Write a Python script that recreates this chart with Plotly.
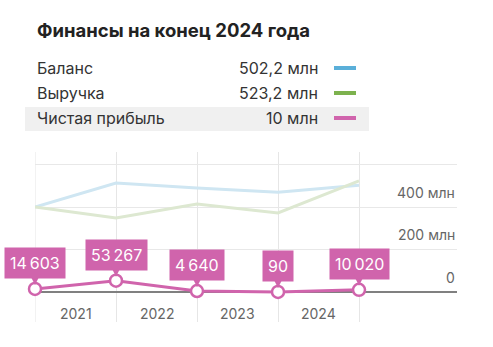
import plotly.graph_objects as go

# ---- data ----
points = [0, 1, 2, 3, 4]
years = ["2021", "2022", "2023", "2024"]
balance = [400, 513, 489, 470, 502.2]          # млн
revenue = [400, 348, 414, 372, 523.2]          # млн
profit_thousands = [14603, 53267, 4640, 90, 10020]  # тыс.
y_ticks = [0, 200, 400]
y_tick_labels = ["0", "200 млн", "400 млн"]
legend_names = ["Баланс", "Выручка", "Чистая прибыль"]
legend_values = ["502,2 млн", "523,2 млн", "10 млн"]

FONT = "Inter"
BLUE = "#5AAFD9"
GREEN = "#7DB24E"
PINK = "#D064AC"
BLUE_F = "#CFE6F2"
GREEN_F = "#DDE8D1"

W, H = 493, 347
L, R, T, B = 35, 457, 152, 322
def px(x): return (x - L) / (R - L)
def py(y): return (B - y) / (B - T)

profit = [v / 1000 for v in profit_thousands]

fig = go.Figure()
fig.add_trace(go.Scatter(x=points, y=balance, mode="lines",
                         line=dict(color=BLUE_F, width=3), hoverinfo="skip"))
fig.add_trace(go.Scatter(x=points, y=revenue, mode="lines",
                         line=dict(color=GREEN_F, width=3), hoverinfo="skip"))
fig.add_trace(go.Scatter(x=points, y=profit, mode="lines+markers",
                         line=dict(color=PINK, width=3),
                         marker=dict(size=12, color="white", line=dict(color=PINK, width=2.5)),
                         cliponaxis=False, hoverinfo="skip"))

ann = []
# title
ann.append(dict(x=px(35), y=py(30), xref="paper", yref="paper", xanchor="left", yanchor="middle",
                text="<b>Финансы на конец 2024 года</b>", showarrow=False,
                font=dict(family=FONT, size=18.5, color="#222")))
# legend rows
row_y = [68, 93, 118]
colors = [BLUE, GREEN, PINK]
shapes = [dict(type="rect", xref="paper", yref="paper", x0=px(25), x1=px(369), y0=py(107), y1=py(131),
               fillcolor="#F0F0F0", line=dict(width=0), layer="below"),
          dict(type="line", xref="x", yref="paper", x0=0, x1=0, y0=0, y1=1,
               line=dict(color="#E6E6E6", width=1), layer="below")]
for name, val, yy, c in zip(legend_names, legend_values, row_y, colors):
    ann.append(dict(x=px(35), y=py(yy), xref="paper", yref="paper", xanchor="left", yanchor="middle",
                    text=name, showarrow=False, font=dict(family=FONT, size=16, color="#333")))
    ann.append(dict(x=px(320), y=py(yy), xref="paper", yref="paper", xanchor="right", yanchor="middle",
                    text=val, showarrow=False, font=dict(family=FONT, size=16, color="#333")))
    shapes.append(dict(type="rect", xref="paper", yref="paper", x0=px(334), x1=px(356),
                       y0=py(yy + 2), y1=py(yy - 2), fillcolor=c, line=dict(width=0)))
# y tick labels above gridlines
for v, t in zip(y_ticks, y_tick_labels):
    ann.append(dict(x=1, y=v, xref="paper", yref="y", xanchor="right", yanchor="middle", yshift=15,
                    text=t, showarrow=False, font=dict(family=FONT, size=14, color="#666")))
# year labels between gridlines
for i, yr in enumerate(years):
    ann.append(dict(x=i + 0.5, y=py(313), xref="x", yref="paper", xanchor="center", yanchor="middle",
                    text=yr, showarrow=False, font=dict(family=FONT, size=14, color="#666")))
# profit callouts
for xi, v, t in zip(points, profit, profit_thousands):
    label = f"{t:,}".replace(",", "\u2009")
    ann.append(dict(x=xi, y=v, xref="x", yref="y", text=label, showarrow=True,
                    ax=0, ay=-26, arrowhead=2, arrowsize=1.4, arrowwidth=1.5, arrowcolor=PINK,
                    standoff=4, bgcolor=PINK, borderpad=5,
                    font=dict(family=FONT, size=16, color="white")))

fig.update_layout(
    width=W, height=H, margin=dict(l=L, r=W - R, t=T, b=H - B),
    paper_bgcolor="white", plot_bgcolor="white", showlegend=False,
    annotations=ann, shapes=shapes, hovermode=False,
    xaxis=dict(range=[0, (R - L) / 81], tickvals=points, showticklabels=False,
               showgrid=True, gridcolor="#E6E6E6", gridwidth=1, zeroline=False, fixedrange=True),
    yaxis=dict(range=[(292 - B) / 0.2125, (292 - T) / 0.2125], tickvals=[200, 400, 600],
               showticklabels=False, showgrid=True, gridcolor="#E8E8E8", gridwidth=1,
               zeroline=True, zerolinecolor="#808080", zerolinewidth=2, fixedrange=True),
)
fig.write_html("out.html", config={"displayModeBar": False})
